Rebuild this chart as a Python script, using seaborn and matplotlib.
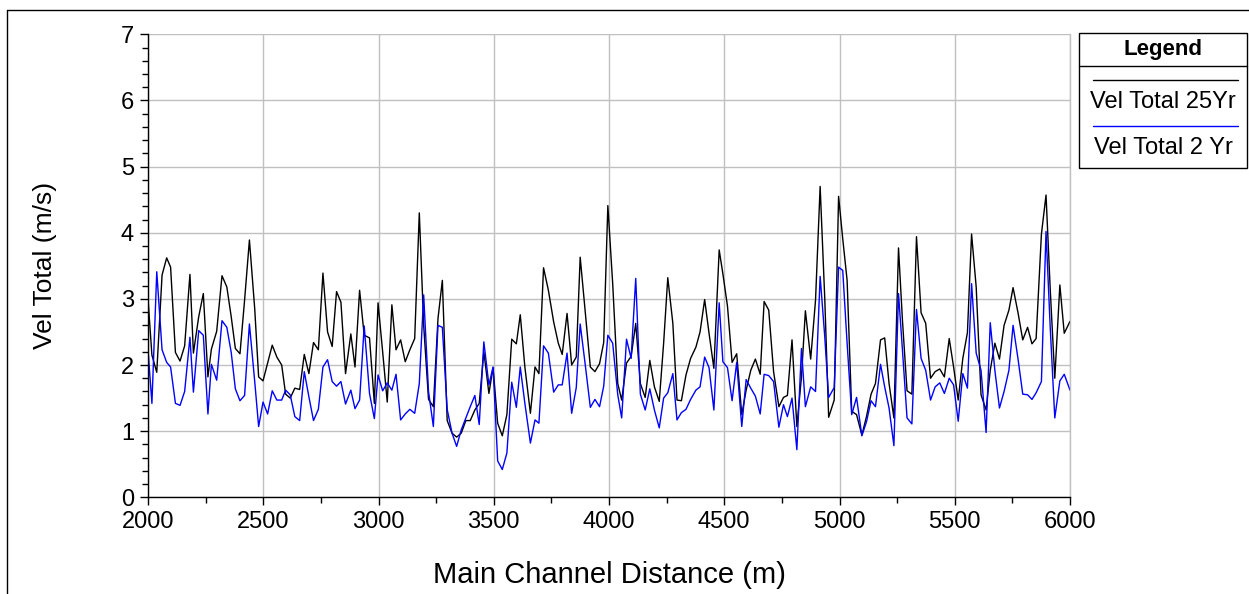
import matplotlib
matplotlib.use("Agg")
import matplotlib.pyplot as plt
from matplotlib.lines import Line2D
from matplotlib.patches import Rectangle
from matplotlib.ticker import MultipleLocator
import pandas as pd
import seaborn as sns

# stations along the main channel (m)
distance = [
    2000, 2017, 2038, 2061, 2081, 2098, 2119, 2139, 2159, 2182, 2197, 2220, 2240,
    2260, 2275, 2298, 2321, 2342, 2361, 2379, 2399, 2419, 2440, 2463, 2480,
    2499, 2519, 2539, 2559, 2580, 2597, 2617, 2637, 2658, 2678, 2698, 2718, 2739,
    2759, 2779, 2799, 2818, 2837, 2857, 2880, 2898, 2918, 2938, 2961, 2982,
    2998, 3018, 3038, 3058, 3076, 3096, 3116, 3136, 3157, 3177, 3196, 3217, 3238,
    3258, 3277, 3298, 3319, 3339, 3359, 3379, 3398, 3418, 3437, 3457, 3479,
    3497, 3517, 3537, 3557, 3578, 3598, 3615, 3635, 3659, 3679, 3696, 3716, 3737,
    3760, 3780, 3797, 3818, 3838, 3858, 3875, 3896, 3919, 3939, 3959, 3977,
    3995, 4016, 4038, 4055, 4076, 4096, 4116, 4136, 4157, 4177, 4197, 4218, 4237,
    4255, 4277, 4295, 4314, 4334, 4354, 4377, 4395, 4415, 4434, 4455, 4478,
    4494, 4514, 4534, 4554, 4576, 4595, 4615, 4635, 4656, 4673, 4693, 4714, 4737,
    4757, 4774, 4794, 4815, 4835, 4852, 4875, 4896, 4916, 4936, 4953, 4977,
    4996, 5014, 5033, 5053, 5074, 5097, 5117, 5137, 5156, 5178, 5196, 5215, 5236,
    5256, 5273, 5293, 5314, 5334, 5354, 5374, 5395, 5415, 5435, 5455, 5476,
    5495, 5515, 5535, 5555, 5573, 5593, 5614, 5636, 5654, 5674, 5694, 5714, 5735,
    5753, 5775, 5795, 5816, 5835, 5853, 5876, 5896, 5914, 5934, 5956, 5975, 6000,
]

vel_25yr = [
    3.00, 2.15, 1.89, 3.36, 3.62, 3.48, 2.19, 2.06, 2.29, 3.37, 2.18, 2.73, 3.08,
    1.82, 2.24, 2.51, 3.35, 3.18, 2.73, 2.25, 2.17, 2.98, 3.89, 2.85, 1.82,
    1.76, 2.03, 2.30, 2.12, 2.00, 1.56, 1.50, 1.65, 1.63, 2.16, 1.87, 2.34, 2.23,
    3.39, 2.50, 2.28, 3.11, 2.95, 1.87, 2.47, 1.97, 3.13, 2.45, 2.41, 1.42,
    2.94, 2.20, 1.44, 2.91, 2.23, 2.38, 2.05, 2.23, 2.40, 4.30, 2.60, 1.48, 1.37,
    2.70, 3.28, 1.16, 0.97, 0.91, 0.97, 1.16, 1.16, 1.32, 1.42, 2.20, 1.57,
    1.96, 1.12, 0.93, 1.25, 2.39, 2.32, 2.76, 1.97, 1.27, 1.97, 1.87, 3.47, 3.13,
    2.65, 2.33, 2.16, 2.78, 2.00, 2.12, 3.63, 2.83, 1.97, 1.90, 2.02, 2.34,
    4.41, 3.23, 1.72, 1.47, 2.03, 2.13, 2.63, 1.72, 1.51, 2.07, 1.67, 1.45, 2.33,
    3.32, 2.63, 1.47, 1.46, 1.85, 2.10, 2.27, 2.50, 2.99, 2.48, 1.95, 3.74,
    3.38, 2.89, 2.04, 2.17, 1.25, 1.62, 1.92, 2.09, 1.86, 2.96, 2.83, 1.90, 1.37,
    1.51, 1.54, 2.38, 1.07, 1.82, 2.82, 2.09, 2.98, 4.70, 3.01, 1.21, 1.47,
    4.55, 3.91, 3.28, 1.30, 1.25, 0.94, 1.22, 1.56, 1.72, 2.38, 2.41, 1.72, 1.20,
    3.77, 2.68, 1.61, 1.56, 3.94, 2.79, 2.63, 1.80, 1.90, 1.94, 1.82, 2.40,
    1.97, 1.47, 2.10, 2.49, 3.98, 3.18, 1.55, 1.32, 1.92, 2.33, 2.09, 2.60, 2.83,
    3.17, 2.78, 2.38, 2.57, 2.32, 2.40, 3.98, 4.57, 3.16, 1.80, 3.21, 2.48, 2.66,
]

vel_2yr = [
    2.23, 1.42, 3.41, 2.23, 2.04, 1.97, 1.42, 1.39, 1.60, 2.42, 1.59, 2.52, 2.45,
    1.26, 2.01, 1.77, 2.67, 2.57, 2.19, 1.64, 1.46, 1.54, 2.62, 1.75, 1.07,
    1.44, 1.26, 1.61, 1.47, 1.47, 1.62, 1.55, 1.22, 1.16, 1.90, 1.52, 1.16, 1.33,
    1.97, 2.08, 1.75, 1.68, 1.75, 1.41, 1.62, 1.34, 1.47, 2.59, 1.57, 1.19,
    1.85, 1.61, 1.73, 1.62, 1.86, 1.17, 1.26, 1.33, 1.27, 1.72, 3.06, 1.60, 1.07,
    2.60, 2.57, 1.33, 0.97, 0.77, 1.02, 1.20, 1.37, 1.54, 1.10, 2.35, 1.70,
    1.97, 0.55, 0.42, 0.67, 1.74, 1.36, 1.97, 1.42, 0.82, 1.17, 1.12, 2.29, 2.18,
    1.59, 1.70, 1.70, 2.18, 1.27, 1.66, 2.62, 2.03, 1.36, 1.48, 1.37, 1.68,
    2.45, 2.33, 1.55, 1.20, 2.39, 2.10, 3.31, 1.56, 1.32, 1.64, 1.32, 1.05, 1.50,
    1.58, 1.87, 1.17, 1.28, 1.33, 1.48, 1.62, 1.67, 2.12, 1.96, 1.32, 2.94,
    2.05, 1.96, 1.46, 2.04, 1.07, 1.78, 1.65, 1.53, 1.26, 1.86, 1.84, 1.75, 1.06,
    1.40, 1.22, 1.50, 0.72, 2.25, 1.37, 1.67, 1.60, 3.34, 2.43, 1.51, 1.66,
    3.48, 3.43, 2.33, 1.25, 1.51, 0.93, 1.14, 1.46, 1.37, 2.01, 1.67, 1.35, 0.78,
    3.08, 2.23, 1.20, 1.11, 2.84, 2.10, 1.92, 1.47, 1.67, 1.73, 1.57, 1.80,
    1.70, 1.15, 1.87, 1.65, 3.23, 2.18, 1.92, 0.98, 2.64, 1.92, 1.35, 1.60, 1.92,
    2.60, 2.08, 1.56, 1.55, 1.48, 1.58, 1.75, 4.02, 2.58, 1.20, 1.76, 1.86, 1.62,
]

series_names = ["Vel Total 25Yr", "Vel Total 2 Yr"]
series_colors = ["black", "#0000ff"]

df = pd.DataFrame({"dist": distance, series_names[0]: vel_25yr, series_names[1]: vel_2yr})

sns.set_style("white")
plt.rcParams["font.family"] = ["Liberation Sans", "DejaVu Sans"]
plt.rcParams["text.color"] = "black"
plt.rcParams["axes.labelcolor"] = "black"
plt.rcParams["xtick.color"] = "black"
plt.rcParams["ytick.color"] = "black"

W, H = 1249, 594
fig = plt.figure(figsize=(W / 100, H / 100), dpi=100)


def fx(px):
    return px / W


def fy(py):
    return 1 - py / H


ax = fig.add_axes([fx(148), fy(497.3), fx(1070) - fx(148), fy(34.3) - fy(497.3)])

for name, col in zip(series_names, series_colors):
    sns.lineplot(data=df, x="dist", y=name, color=col, lw=1.0, ax=ax, legend=False)

ax.set_xlim(2000, 6000)
ax.set_ylim(0, 7)
ax.xaxis.set_major_locator(MultipleLocator(500))
ax.xaxis.set_minor_locator(MultipleLocator(250))
ax.yaxis.set_major_locator(MultipleLocator(1))
ax.yaxis.set_minor_locator(MultipleLocator(0.2))
ax.grid(True, which="major", color="#c0c0c0", lw=1.0)
ax.set_axisbelow(True)
ax.spines["top"].set_visible(False)
ax.spines["right"].set_color("#c0c0c0")
ax.spines["right"].set_linewidth(1.0)
for s in ["left", "bottom"]:
    ax.spines[s].set_color("black")
    ax.spines[s].set_linewidth(1.0)
ax.tick_params(which="major", direction="out", length=6, width=1, labelsize=17,
               left=True, bottom=True, color="black", labelcolor="black", pad=4)
ax.tick_params(which="minor", direction="out", length=4, width=1,
               left=True, bottom=True, color="black")
ax.set_xlabel("Main Channel Distance (m)", fontsize=21, labelpad=20, color="black")
ax.set_ylabel("Vel Total (m/s)", fontsize=19, labelpad=46, color="black")

# outer frame
fig.add_artist(Line2D([fx(7), fx(7)], [0, fy(10)], color="black", lw=1))
fig.add_artist(Line2D([fx(7), 1], [fy(10), fy(10)], color="black", lw=1))

# legend box
fig.add_artist(Rectangle((fx(1079), fy(168)), fx(1247) - fx(1079), fy(33) - fy(168),
                         fill=False, edgecolor="black", lw=1))
fig.add_artist(Line2D([fx(1079), fx(1247)], [fy(66), fy(66)], color="black", lw=1))
fig.text(fx(1163), fy(49), "Legend", ha="center", va="center", fontsize=16,
         fontweight="bold", color="black")
for i, (name, col) in enumerate(zip(series_names, series_colors)):
    y_line = 80 + i * 46
    fig.add_artist(Line2D([fx(1093), fx(1238)], [fy(y_line), fy(y_line)], color=col, lw=1))
    fig.text(fx(1163), fy(y_line + 22), name, ha="center", va="center", fontsize=17,
             color="black")

fig.savefig("out.png", dpi=100)
